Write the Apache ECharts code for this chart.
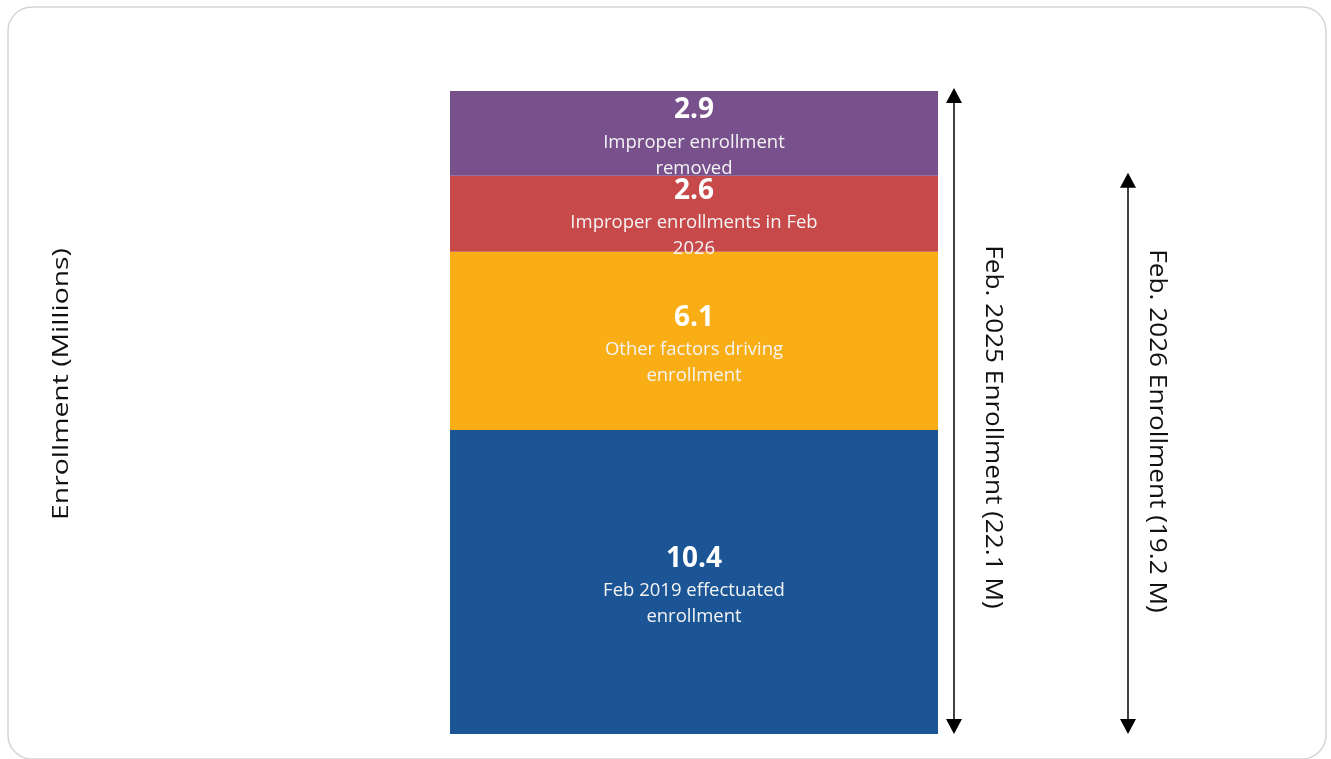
<!DOCTYPE html>
<html>
<head>
<meta charset="utf-8">
<script src="https://cdn.jsdelivr.net/npm/echarts@6/dist/echarts.min.js"></script>
<style>
  html, body { margin: 0; padding: 0; background: #fff; }
  #chart { width: 1331px; height: 759px; }
</style>
</head>
<body>
<div id="chart"></div>
<script>
// Enrollment components (millions), stacked bottom to top
const segmentNames = [
  'Feb 2019 effectuated\nenrollment',
  'Other factors driving\nenrollment',
  'Improper enrollments in Feb\n2026',
  'Improper enrollment\nremoved'
];
const segmentValues = [10.4, 6.1, 2.6, 2.9];
const segmentColors = ['#1B5595', '#F9AE15', '#C8494A', '#78518C'];

// Span arrows to the right of the bar: total enrollment per year
const spanLabels = ['Feb. 2025 Enrollment (22.1 M)', 'Feb. 2026 Enrollment (19.2 M)'];
const spanValues = [22.1, 19.2];

const category = ['Enrollment'];
const total = segmentValues.reduce((a, b) => a + b, 0);

const FONT = '"Open Sans", "Noto Sans", sans-serif';
const arrowOffsets = [16, 190];

const barSeries = segmentValues.map((v, i) => ({
  type: 'bar',
  stack: 'total',
  barWidth: '100%',
  data: [v],
  itemStyle: { color: segmentColors[i] },
  label: {
    show: true,
    position: 'inside',
    offset: [0, 3],
    overflow: 'none',
    formatter: () => '{v|' + v.toFixed(1) + '}\n' +
      segmentNames[i].split('\n').map(s => '{t|' + s + '}').join('\n'),
    rich: {
      v: { fontFamily: FONT, fontSize: 28, fontWeight: 'bold', color: '#fff', lineHeight: 38 },
      t: { fontFamily: FONT, fontSize: 18.5, color: '#f4f4f4', lineHeight: 26 }
    }
  },
  silent: true
}));

function renderArrow(params, api) {
  const i = params.dataIndex;
  const base = api.coord([api.value(0), 0]);
  const tip = api.coord([api.value(0), api.value(1)]);
  const band = api.size([1, 0])[0];
  const x = base[0] + band / 2 + arrowOffsets[i];
  const hw = 8, hh = 15;
  const y0 = tip[1], y1 = base[1];
  return {
    type: 'group',
    children: [
      { type: 'line', shape: { x1: x, y1: y0 + hh - 1, x2: x, y2: y1 - hh + 1 },
        style: { stroke: '#000', lineWidth: 1.5 } },
      { type: 'polygon', shape: { points: [[x, y0], [x - hw, y0 + hh], [x + hw, y0 + hh]] },
        style: { fill: '#000' } },
      { type: 'polygon', shape: { points: [[x, y1], [x - hw, y1 - hh], [x + hw, y1 - hh]] },
        style: { fill: '#000' } }
    ]
  };
}

const chart = echarts.init(document.getElementById('chart'));
chart.setOption({
  backgroundColor: '#fff',
  animation: false,
  grid: { left: 450, right: 393, top: 91, bottom: 25 },
  xAxis: { type: 'category', data: category, show: false },
  yAxis: { type: 'value', min: 0, max: total, show: false },
  series: barSeries.concat([{
    type: 'custom',
    renderItem: renderArrow,
    data: spanValues.map(v => [0, v]),
    clip: false,
    silent: true,
    z: 5
  }]),
  graphic: [
    { type: 'rect', shape: { x: 8, y: 7, width: 1318, height: 752, r: 24 },
      style: { fill: 'none', stroke: '#d6d6d6', lineWidth: 1.5 }, silent: true },
    { type: 'text', x: 62, y: 384, rotation: Math.PI / 2, scaleX: 1.35,
      style: { text: 'Enrollment (Millions)', font: '21px ' + FONT, fill: '#111',
               align: 'center', verticalAlign: 'middle' } },
    { type: 'text', x: 993, y: 427, rotation: -Math.PI / 2, scaleX: 1.09,
      style: { text: spanLabels[0], font: '24px ' + FONT, fill: '#111',
               align: 'center', verticalAlign: 'middle' } },
    { type: 'text', x: 1157, y: 431, rotation: -Math.PI / 2, scaleX: 1.09,
      style: { text: spanLabels[1], font: '24px ' + FONT, fill: '#111',
               align: 'center', verticalAlign: 'middle' } }
  ]
});
</script>
</body>
</html>
